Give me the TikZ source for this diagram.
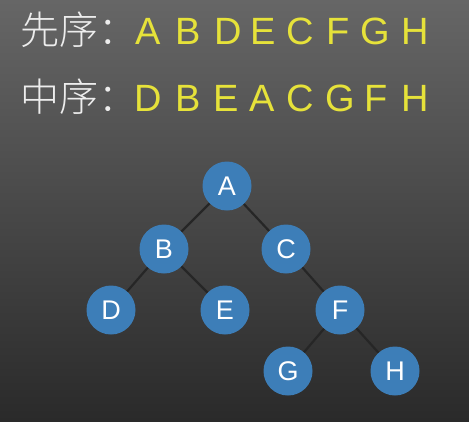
\documentclass[tikz,border=0pt]{standalone}
\usepackage{fontspec}
\setmainfont{Liberation Sans}
\newfontfamily\cjk{Noto Sans CJK SC Light}
\definecolor{bgtop}{HTML}{666666}
\definecolor{bgbot}{HTML}{2A2A2A}
\definecolor{nodeblue}{HTML}{3D7EB8}
\definecolor{txtyellow}{HTML}{E6E23A}
\definecolor{txtwhite}{HTML}{EDEDED}
\tikzset{
  treenode/.style={circle, fill=nodeblue, minimum size=49pt, inner sep=0pt,
    text=white, font=\fontsize{27}{27}\selectfont},
  edge/.style={draw=black!85, line width=2.2pt},
  seqletter/.style={text=txtyellow, font=\fontsize{38}{38}\selectfont, inner sep=0pt, anchor=base},
  seqlabel/.style={text=txtwhite, font=\cjk\fontsize{39}{39}\selectfont, inner sep=0pt, anchor=base west}
}
\begin{document}
\begin{tikzpicture}[x=1pt,y=-1pt]
\shade[top color=bgtop, bottom color=bgbot] (0,0) rectangle (469,421);
\useasboundingbox (0,0) rectangle (469,421);
% labels
\node[seqlabel] (l1) at (20,44) {先序：};
\node[seqlabel] (l2) at (20,111) {中序：};
% preorder
\foreach \x/\t [count=\i] in {148/A,188/B,228/D,263/E,300/C,338/F,375/G,415/H}
  \node[seqletter] (p\i) at (\x,44) {\t};
% inorder
\foreach \x/\t [count=\i] in {148/D,188/B,226/E,262/A,300/C,340/G,376/F,415/H}
  \node[seqletter] (m\i) at (\x,111) {\t};
% tree
\node[treenode] (A) at (227,186) {A};
\node[treenode] (B) at (164,249) {B};
\node[treenode] (C) at (286,249) {C};
\node[treenode] (D) at (111,310) {D};
\node[treenode] (E) at (225,310) {E};
\node[treenode] (F) at (340,310) {F};
\node[treenode] (G) at (288,371) {G};
\node[treenode] (H) at (395,371) {H};
\draw[edge] (A) -- (B);
\draw[edge] (A) -- (C);
\draw[edge] (B) -- (D);
\draw[edge] (B) -- (E);
\draw[edge] (C) -- (F);
\draw[edge] (F) -- (G);
\draw[edge] (F) -- (H);
\end{tikzpicture}
\end{document}
